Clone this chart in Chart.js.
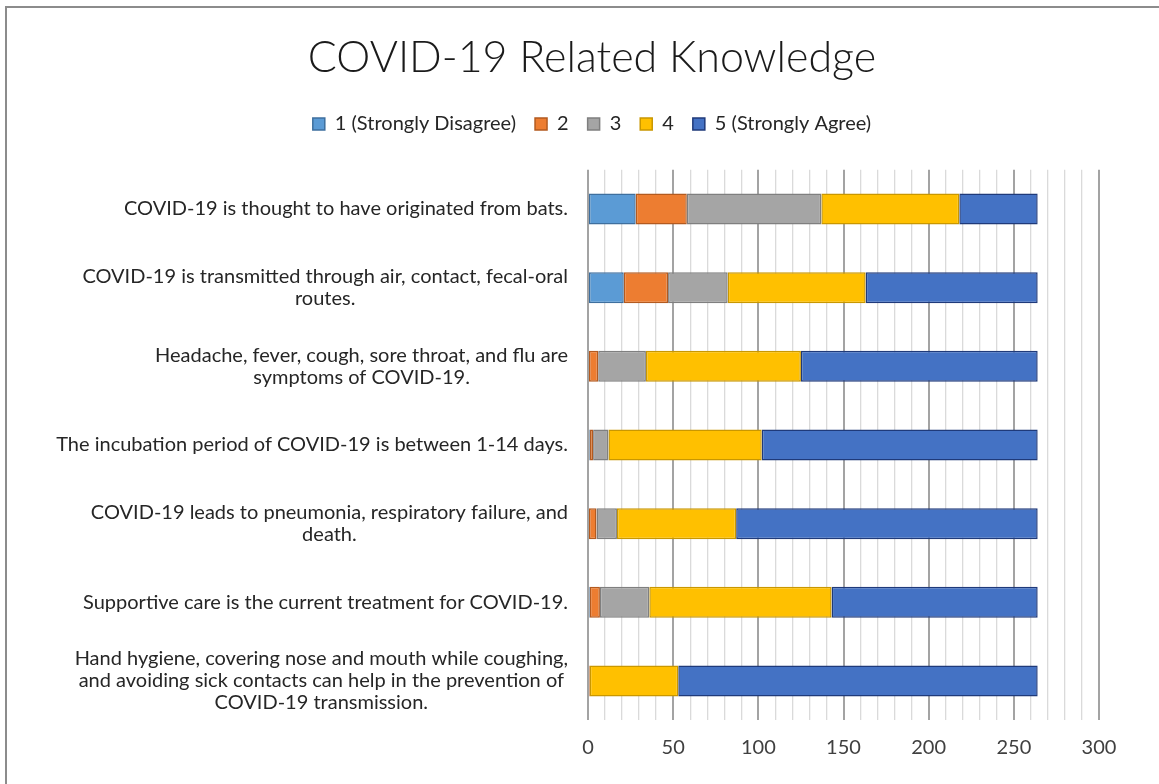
<!DOCTYPE html>
<html>
<head>
<meta charset="utf-8">
<script src="https://cdn.jsdelivr.net/npm/chart.js@4"></script>
<style>
  html, body { margin: 0; padding: 0; background: #fff; overflow: hidden; }
  #wrap { position: relative; width: 1159px; height: 784px; }
  #frame { position: absolute; left: 5px; top: 6px; width: 1300px; height: 900px;
           border-left: 2px solid #8c8c8c; border-top: 2px solid #8c8c8c; }
  canvas { position: absolute; left: 0; top: 0; }
</style>
</head>
<body>
<div id="wrap">
  <div id="frame"></div>
  <canvas id="c" width="1159" height="784"></canvas>
</div>
<script>
const categories = [
  "COVID-19 is thought to have originated from bats.",
  ["COVID-19 is transmitted through air, contact, fecal-oral", "routes."],
  ["Headache, fever, cough, sore throat, and flu are", "symptoms of COVID-19."],
  "The incubation period of COVID-19 is between 1-14 days.",
  ["COVID-19 leads to pneumonia, respiratory failure, and", "death."],
  "Supportive care is the current treatment for COVID-19.",
  ["Hand hygiene, covering nose and mouth while coughing,", "and avoiding sick contacts can help in the prevention of", "COVID-19 transmission."]
];
const seriesNames = ["1 (Strongly Disagree)", "2", "3", "4", "5 (Strongly Agree)"];
const s1 = [28, 21, 0, 1, 0, 1, 0];
const s2 = [30, 26, 6, 2, 5, 6, 1];
const s3 = [79, 35, 28, 9, 12, 29, 0];
const s4 = [81, 81, 91, 90, 70, 107, 52];
const s5 = [46, 101, 139, 162, 177, 121, 211];
const xTicks = [0, 50, 100, 150, 200, 250, 300];

const fills = ["#5B9BD5", "#ED7D31", "#A5A5A5", "#FFC000", "#4472C4"];
const borders = ["#3E6F9E", "#B35A1F", "#7F7F7F", "#C99700", "#1F3A7A"];
const FONT = "Lato, 'Open Sans', sans-serif";

const values = [s1, s2, s3, s4, s5];
const datasets = seriesNames.map((n, i) => ({
  label: n,
  data: values[i],
  xAxisID: 'x',
  yAxisID: 'y',
  backgroundColor: fills[i],
  borderColor: borders[i],
  borderWidth: 1.5,
  borderSkipped: false,
  categoryPercentage: 1,
  barPercentage: 0.394
}));

const yLabelPlugin = {
  id: 'yLabels',
  afterDraw(chart) {
    const ctx = chart.ctx;
    const ys = chart.scales.y;
    const right = chart.chartArea.left - 20;
    const lineH = 22;
    ctx.save();
    ctx.font = "20px " + FONT;
    ctx.fillStyle = "#262626";
    ctx.textAlign = "center";
    ctx.textBaseline = "middle";
    categories.forEach((lab, i) => {
      const lines = Array.isArray(lab) ? lab : [lab];
      const w = Math.max(...lines.map(l => ctx.measureText(l).width));
      const cx = right - w / 2;
      const cy = ys.getPixelForValue(i);
      lines.forEach((l, j) => ctx.fillText(l, cx, cy + (j - (lines.length - 1) / 2) * lineH));
    });
    ctx.restore();
  }
};

new Chart(document.getElementById('c'), {
  type: 'bar',
  data: { labels: categories.map(c => Array.isArray(c) ? c.join(' ') : c), datasets },
  options: {
    indexAxis: 'y',
    responsive: false,
    animation: false,
    devicePixelRatio: 1,
    layout: { padding: { left: 25, right: 0, top: 0, bottom: 0 } },
    plugins: {
      title: {
        display: true,
        text: "COVID-19 Related Knowledge",
        color: "#1a1a1a",
        font: { family: FONT, size: 43, weight: '300' },
        padding: { top: 32, bottom: 11.4 }
      },
      legend: {
        display: true,
        position: 'top',
        labels: {
          color: "#262626",
          font: { family: FONT, size: 20 },
          boxWidth: 12,
          boxHeight: 12,
          padding: 19
        }
      },
      tooltip: { enabled: false }
    },
    scales: {
      x: {
        type: 'linear',
        axis: 'x',
        position: 'bottom',
        stacked: true,
        min: 0,
        max: 300,
        afterFit(s) { s.height = 63.7; },
        border: { display: false },
        grid: {
          drawTicks: false,
          color: c => (c.tick && c.tick.value % 50 === 0) ? "#a3a3a3" : "#dadada",
          lineWidth: c => (c.tick && c.tick.value % 50 === 0) ? 2 : 1.3
        },
        ticks: {
          stepSize: 10,
          autoSkip: false,
          maxRotation: 0,
          padding: 15,
          color: "#404040",
          font: { family: FONT, size: 20 },
          callback: v => xTicks.includes(v) ? String(v) : ''
        }
      },
      y: {
        type: 'category',
        axis: 'y',
        position: 'left',
        stacked: true,
        afterFit(s) { s.width = 563; },
        border: { display: false },
        grid: { display: false, drawTicks: false },
        ticks: { display: false }
      },
      xTop: {
        type: 'linear',
        axis: 'x',
        position: 'top',
        display: true,
        afterFit(s) { s.height = 25.7; },
        border: { display: false },
        grid: { display: false, drawTicks: false },
        ticks: { display: false }
      },
      yRight: {
        type: 'linear',
        axis: 'y',
        position: 'right',
        display: true,
        afterFit(s) { s.width = 60; },
        border: { display: false },
        grid: { display: false, drawTicks: false },
        ticks: { display: false }
      }
    }
  },
  plugins: [yLabelPlugin]
});
</script>
</body>
</html>
